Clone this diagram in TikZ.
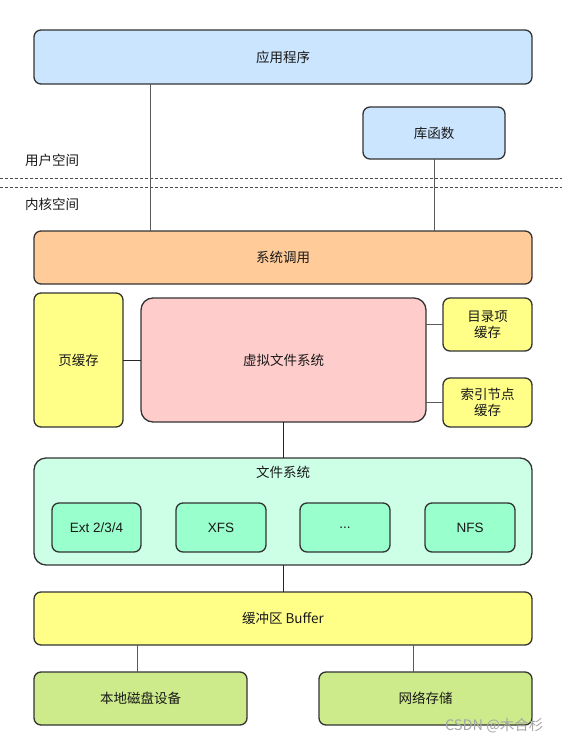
\documentclass[tikz,border=0pt]{standalone}
\usepackage{fontspec}
\setmainfont{Liberation Sans}
\newfontfamily\cjk{Noto Sans CJK SC}
\definecolor{cblue}{HTML}{CCE5FF}
\definecolor{corange}{HTML}{FFCC99}
\definecolor{cyellow}{HTML}{FFFF88}
\definecolor{cpink}{HTML}{FFCCCC}
\definecolor{cmint}{HTML}{CCFFE6}
\definecolor{cgreen}{HTML}{99FFCC}
\definecolor{clime}{HTML}{CDEB8B}
\definecolor{cedge}{HTML}{333333}
\definecolor{cline}{HTML}{5A5A5A}
\tikzset{
  box/.style={draw=cedge, line width=1.3pt, rounded corners=7pt, inner sep=0pt, outer sep=0pt, align=center, font=\cjk\fontsize{13.5}{16.5}\selectfont, text=black!90},
  conn/.style={draw=cline, line width=1pt},
  sep/.style={draw=black!70, line width=0.7pt, dash pattern=on 3pt off 2pt},
  lbl/.style={font=\cjk\fontsize{13.5}{16.5}\selectfont, text=black!90},
}
\begin{document}
\begin{tikzpicture}[x=1pt,y=-1pt]
\useasboundingbox[fill=white] (0,0) rectangle (562,741);
% boxes
\node[box, fill=cblue, minimum width=498pt, minimum height=54pt] (app) at (283,57) {应用程序};
\node[box, fill=cblue, minimum width=142pt, minimum height=52pt] (lib) at (434,133) {库函数};
\node[box, fill=corange, minimum width=498pt, minimum height=53pt] (sys) at (283,257.5) {系统调用};
\node[box, fill=cyellow, minimum width=89pt, minimum height=134pt] (page) at (78.5,360) {页缓存};
\node[box, fill=cpink, minimum width=285pt, minimum height=124pt, rounded corners=12pt] (vfs) at (283.5,360) {虚拟文件系统};
\node[box, fill=cyellow, minimum width=89pt, minimum height=53pt] (dent) at (487.5,324.5) {目录项\\缓存};
\node[box, fill=cyellow, minimum width=89pt, minimum height=49pt] (inode) at (487.5,402.5) {索引节点\\缓存};
\node[box, fill=cmint, minimum width=498pt, minimum height=107pt, rounded corners=12pt] (fs) at (283,511.5) {};
\node[lbl] (fst) at (283,472) {文件系统};
\node[box, fill=cgreen, minimum width=89pt, minimum height=49pt, font=\fontsize{13.5}{16}\selectfont] (ext) at (96.5,527.5) {Ext 2/3/4};
\node[box, fill=cgreen, minimum width=90pt, minimum height=49pt, font=\fontsize{13.5}{16}\selectfont] (xfs) at (221,527.5) {XFS};
\node[box, fill=cgreen, minimum width=90pt, minimum height=49pt, font=\fontsize{13.5}{16}\selectfont] (dots) at (345,527.5) {...};
\node[box, fill=cgreen, minimum width=90pt, minimum height=49pt, font=\fontsize{13.5}{16}\selectfont] (nfs) at (470,527.5) {NFS};
\node[box, fill=cyellow, minimum width=498pt, minimum height=53pt] (buf) at (283,618.5) {缓冲区 Buffer};
\node[box, fill=clime, minimum width=213pt, minimum height=53pt] (disk) at (140.5,698.5) {本地磁盘设备};
\node[box, fill=clime, minimum width=213pt, minimum height=53pt] (net) at (425.5,698.5) {网络存储};
% separators
\draw[sep] (0,178) -- (562,178);
\draw[sep] (0,187) -- (562,187);
\node[lbl] (user) at (52,160) {用户空间};
\node[lbl] (kern) at (52,204) {内核空间};
% connectors
\draw[conn] (app.south -| 150,0) -- (sys.north -| 150,0);
\draw[conn] (lib.south) -- (sys.north -| lib.south);
\draw[conn, draw=black!85] (page.east) -- (vfs.west);
\draw[conn] (vfs.east |- dent.west) -- (dent.west);
\draw[conn] (vfs.east |- inode.west) -- (inode.west);
\draw[conn, draw=black!85] (vfs.south -| 283,0) -- (fs.north -| 283,0);
\draw[conn, draw=black!85] (fs.south -| 283,0) -- (buf.north -| 283,0);
\draw[conn] (buf.south -| 137,0) -- (disk.north -| 137,0);
\draw[conn] (buf.south -| 413,0) -- (net.north -| 413,0);
% watermark
\node[font=\cjk\fontsize{14.5}{17}\selectfont, text=black!35, anchor=east] (wm) at (547,726) {CSDN @木合杉};
\end{tikzpicture}
\end{document}
